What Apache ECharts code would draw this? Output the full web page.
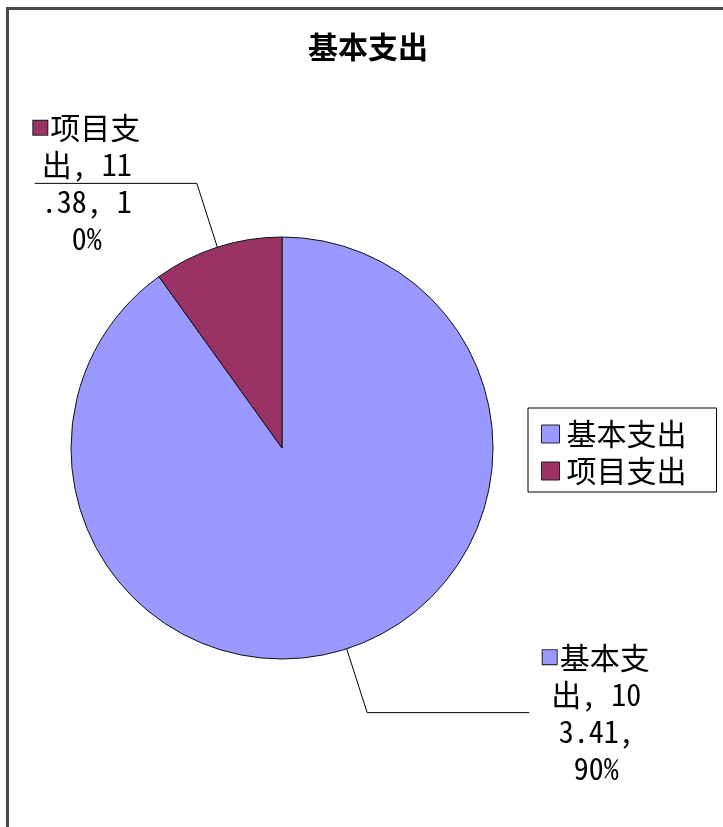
<!DOCTYPE html>
<html>
<head>
<meta charset="utf-8">
<script src="https://cdn.jsdelivr.net/npm/echarts@6/dist/echarts.min.js"></script>
<style>
html,body{margin:0;padding:0;background:#fff;}
#chart{width:723px;height:827px;}
</style>
</head>
<body>
<div id="chart"></div>
<script>
const titleText = '基本支出';
const categories = ['基本支出', '项目支出'];
const values = [103.41, 11.38];
const colors = ['#9999FF', '#993366'];

const FONT = "'Noto Sans Mono CJK SC', 'Noto Sans CJK SC', sans-serif";

// Excel-like character wrap: CJK = 2 units, others = 1 unit, 6 units per line
function wrapText(s, maxUnits) {
  const lines = [];
  let cur = '', units = 0;
  for (const ch of s) {
    const u = ch.charCodeAt(0) > 255 ? 2 : 1;
    if (units + u > maxUnits) {
      lines.push(cur.replace(/\s+$/, ''));
      cur = ''; units = 0;
      if (ch === ' ') continue;
    }
    cur += ch; units += u;
  }
  if (cur) lines.push(cur.replace(/\s+$/, ''));
  return lines;
}

const chart = echarts.init(document.getElementById('chart'), null, {renderer: 'canvas'});

const richMarkers = {};
colors.forEach((c, i) => {
  richMarkers['m' + i] = {width: 14, height: 14, backgroundColor: c, borderColor: '#222', borderWidth: 1};
});
richMarkers.g = {width: 3};
richMarkers.t = {fontSize: 30, lineHeight: 37, fontFamily: FONT, color: '#000', align: 'center'};

const option = {
  backgroundColor: '#fff',
  animation: false,
  title: {
    text: titleText,
    left: 303,
    top: 27,
    textStyle: {fontSize: 30, fontWeight: 'bold', fontFamily: FONT, color: '#000'}
  },
  legend: {
    orient: 'vertical',
    left: 528,
    top: 408,
    padding: [11, 30, 6, 13],
    itemGap: 7,
    itemWidth: 18,
    itemHeight: 18,
    icon: 'rect',
    borderColor: '#000',
    borderWidth: 1,
    data: categories,
    textStyle: {fontSize: 30, lineHeight: 30, fontFamily: FONT, color: '#000', padding: [0, 0, 0, 2]},
    itemStyle: {borderColor: '#222', borderWidth: 1}
  },
  graphic: [{
    type: 'rect',
    shape: {x: 7.5, y: 8.5, width: 760, height: 860},
    style: {fill: null, stroke: '#4a4a4a', lineWidth: 3},
    z: -1
  }],
  series: [{
    type: 'pie',
    center: [282, 448],
    radius: 211,
    startAngle: 90,
    clockwise: true,
    avoidLabelOverlap: false,
    data: categories.map((n, i) => ({name: n, value: values[i], itemStyle: {color: colors[i]}})),
    itemStyle: {borderColor: '#111', borderWidth: 1},
    emphasis: {disabled: true},
    label: {
      show: true,
      position: 'outside',
      width: 130,
      fontSize: 30,
      lineHeight: 37,
      fontFamily: FONT,
      color: '#000',
      formatter: function (p) {
        const txt = p.name + ', ' + p.value + ', ' + Math.round(p.percent) + '%';
        const lines = wrapText(txt, 6);
        return lines.map((l, i) => (i === 0 ? '{m' + p.dataIndex + '|}{g|}' : '') + '{t|' + l + '}').join('\n');
      },
      rich: richMarkers
    },
    labelLine: {
      show: true,
      length: 67,
      length2: 162,
      lineStyle: {color: '#000', width: 1}
    },
    labelLayout: function (params) {
      const p = params.labelLinePoints;
      if (!p) return {};
      const e = p[2];
      const isLeft = e[0] < p[1][0];
      return {
        x: e[0] + (isLeft ? 52 : 67),
        y: e[1],
        align: 'center',
        verticalAlign: 'middle',
        labelLinePoints: p
      };
    }
  }]
};
chart.setOption(option);
</script>
</body>
</html>
